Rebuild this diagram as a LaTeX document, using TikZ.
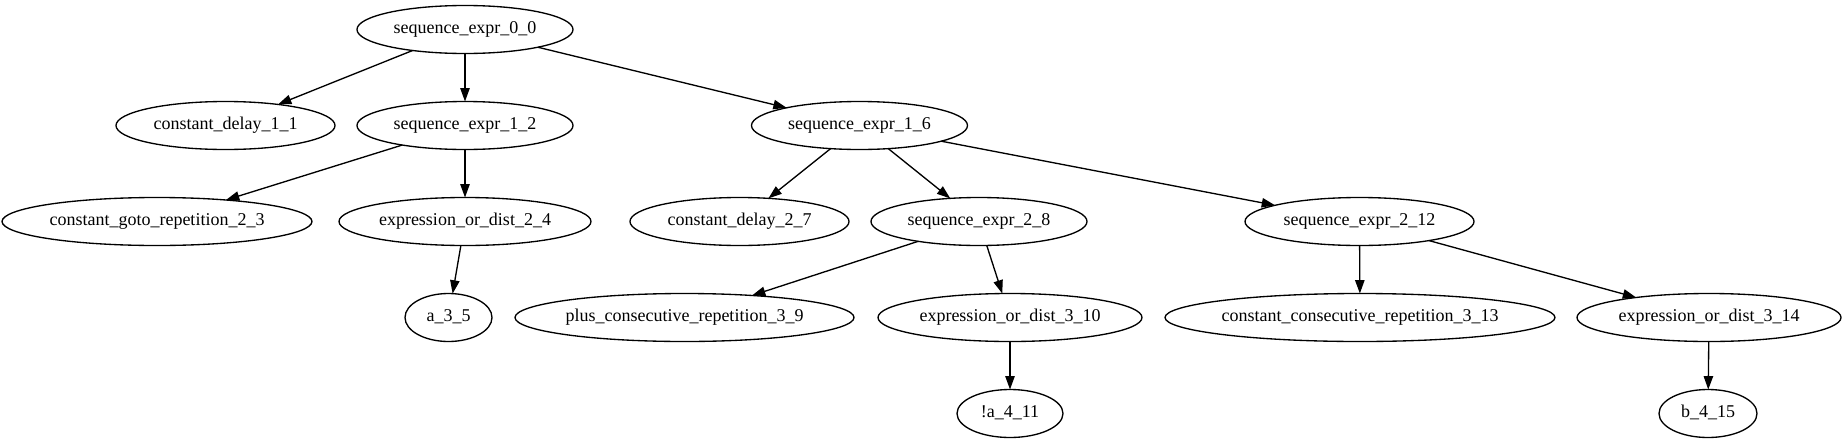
\documentclass[tikz,border=0pt]{standalone}
\usepackage{fontspec}
\setmainfont{Liberation Serif}
\usetikzlibrary{shapes.geometric,arrows.meta}
\tikzset{
  gv/.style={draw=black, line width=1pt, ellipse, inner sep=0pt, outer sep=0pt,
    minimum height=36pt, text height=9pt, text depth=3pt,
    font=\fontsize{13.5pt}{16pt}\selectfont},
  edge/.style={draw=black, line width=1pt, -{Triangle[length=10pt,width=7pt]}}
}
\newcommand{\lbl}[1]{\makebox[0pt][c]{#1}}
\begin{document}
\begin{tikzpicture}[x=0.75pt,y=-0.75pt]
\useasboundingbox (0,0) rectangle (1846,443);
% rank 0
\node[gv, minimum width=162pt] (n0) at (465,29.5) {\lbl{sequence\_expr\_0\_0}};
% rank 1
\node[gv, minimum width=164.25pt] (n1) at (225.5,125.5) {\lbl{constant\_delay\_1\_1}};
\node[gv, minimum width=162pt] (n2) at (465,125.5) {\lbl{sequence\_expr\_1\_2}};
\node[gv, minimum width=162pt] (n6) at (859.5,125.5) {\lbl{sequence\_expr\_1\_6}};
% rank 2
\node[gv, minimum width=232.5pt] (n3) at (157,221.5) {\lbl{constant\_goto\_repetition\_2\_3}};
\node[gv, minimum width=189pt] (n4) at (465,221.5) {\lbl{expression\_or\_dist\_2\_4}};
\node[gv, minimum width=164.25pt] (n7) at (739.5,221.5) {\lbl{constant\_delay\_2\_7}};
\node[gv, minimum width=162pt] (n8) at (979,221.5) {\lbl{sequence\_expr\_2\_8}};
\node[gv, minimum width=171.75pt] (n12) at (1359.5,221.5) {\lbl{sequence\_expr\_2\_12}};
% rank 3
\node[gv, minimum width=65.25pt] (n5) at (448.5,317.5) {\lbl{a\_3\_5}};
\node[gv, minimum width=254.25pt] (n9) at (684.5,317.5) {\lbl{plus\_consecutive\_repetition\_3\_9}};
\node[gv, minimum width=198pt] (n10) at (1010,317.5) {\lbl{expression\_or\_dist\_3\_10}};
\node[gv, minimum width=292.5pt] (n13) at (1360,317.5) {\lbl{constant\_consecutive\_repetition\_3\_13}};
\node[gv, minimum width=198pt] (n14) at (1709,317.5) {\lbl{expression\_or\_dist\_3\_14}};
% rank 4
\node[gv, minimum width=79.5pt] (n11) at (1010,413.5) {\lbl{!a\_4\_11}};
\node[gv, minimum width=73.5pt] (n15) at (1708,413.5) {\lbl{b\_4\_15}};
% edges
\draw[edge] (n0) -- (n1);
\draw[edge] (n0) -- (n2);
\draw[edge] (n0) -- (n6);
\draw[edge] (n2) -- (n3);
\draw[edge] (n2) -- (n4);
\draw[edge] (n4) -- (n5);
\draw[edge] (n6) -- (n7);
\draw[edge] (n6) -- (n8);
\draw[edge] (n6) -- (n12);
\draw[edge] (n8) -- (n9);
\draw[edge] (n8) -- (n10);
\draw[edge] (n10) -- (n11);
\draw[edge] (n12) -- (n13);
\draw[edge] (n12) -- (n14);
\draw[edge] (n14) -- (n15);
\end{tikzpicture}
\end{document}
